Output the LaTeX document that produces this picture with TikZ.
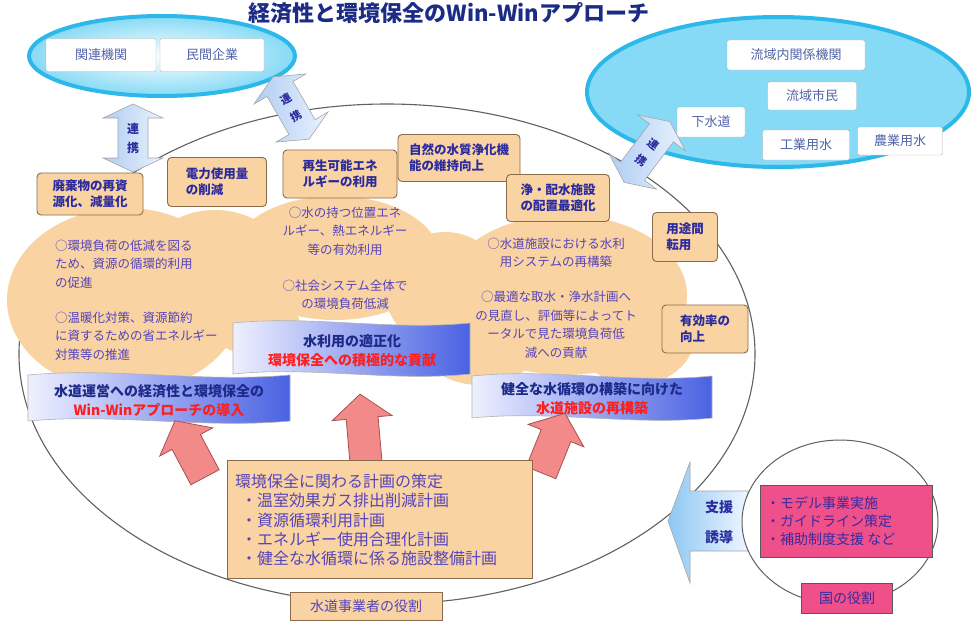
\documentclass[tikz,border=0pt]{standalone}
\usepackage{fontspec}
\setmainfont{Noto Sans CJK JP}
\definecolor{titleblue}{HTML}{1C2C86}
\definecolor{cyanedge}{HTML}{2DB8EA}
\definecolor{cyanL}{HTML}{D3F1FB}
\definecolor{cyanR}{HTML}{86DAF6}
\definecolor{wtext}{HTML}{5263A8}
\definecolor{orange1}{HTML}{FAD3A3}
\definecolor{obord}{HTML}{8B6B4A}
\definecolor{btext}{HTML}{2B2B9E}
\definecolor{ctextc}{HTML}{5544BB}
\definecolor{bannerL}{HTML}{EEF0FF}
\definecolor{bannerR}{HTML}{4A62E2}
\definecolor{navy}{HTML}{1E2A8A}
\definecolor{redt}{HTML}{FF1E1E}
\definecolor{arrL}{HTML}{AFCDF3}
\definecolor{arrR}{HTML}{EAF2FE}
\definecolor{redarrF}{HTML}{F28A8A}
\definecolor{redarrB}{HTML}{A85050}
\definecolor{pinkf}{HTML}{F0508A}
\definecolor{pinktext}{HTML}{3A2AA0}
\definecolor{bigarrL}{HTML}{8EC7F3}
\definecolor{bigarrR}{HTML}{EEF6FF}
\newcommand\wavebanner[4]{%
  \pgfmathsetmacro\wbA{#1+(#3-#1)/3}\pgfmathsetmacro\wbB{#1+2*(#3-#1)/3}%
  \path[banner] (#1,#2) .. controls (\wbA,#2-8) and (\wbB,#2+8) .. (#3,#2) -- (#3,#4) .. controls (\wbB,#4+8) and (\wbA,#4-8) .. (#1,#4) -- cycle;}
\newcommand\dblarr[4]{%
  \begin{scope}[shift={(#1,#2)},rotate=#3]
  \path[bluearr] (-#4,0) -- (-#4+14,-30) -- (-#4+14,-15) -- (#4-14,-15) -- (#4-14,-30) -- (#4,0) -- (#4-14,30) -- (#4-14,15) -- (-#4+14,15) -- (-#4+14,30) -- cycle;
  \end{scope}}
\newcommand\redup[4]{%
  \begin{scope}[shift={(#1,#2)},rotate=#3]
  \path[redarr] (0,-#4) -- (30,-#4+24) -- (16,-#4+24) -- (16,#4) -- (-16,#4) -- (-16,-#4+24) -- (-30,-#4+24) -- cycle;
  \end{scope}}
\begin{document}
\begin{tikzpicture}[x=1pt,y=-1pt,
  wbox/.style={draw=gray!60, fill=white, rounded corners=2pt, text=wtext, font=\fontsize{13}{15}\selectfont, inner sep=1pt},
  obox/.style={draw=obord, fill=orange1, rounded corners=4pt, line width=0.9pt, text=btext, font=\bfseries\fontsize{12.5}{16}\selectfont, align=left, inner sep=2pt},
  ctext/.style={text=ctextc, font=\fontsize{12.5}{18.5}\selectfont, inner sep=0pt},
  btxt/.style={font=\bfseries\fontsize{14}{19}\selectfont, align=center, inner sep=0pt},
  rtxt/.style={text=btext, font=\bfseries\fontsize{11}{13}\selectfont, inner sep=0pt},
  banner/.style={draw=gray!60, line width=0.6pt, left color=bannerL, right color=bannerR},
  bluearr/.style={draw=gray!70, line width=0.6pt, left color=arrL, right color=arrR},
  redarr/.style={draw=redarrB, line width=0.8pt, fill=redarrF},
  ellline/.style={draw=gray!75!black, line width=1.1pt},
  plainbox/.style={draw=obord, fill=orange1, line width=0.9pt, inner sep=0pt},
  pinkbox/.style={draw=gray!70!black, fill=pinkf, line width=0.8pt, text=pinktext, inner sep=0pt},
]
\useasboundingbox (0,0) rectangle (974,624);
\fill[white] (0,0) rectangle (974,624);

% title
\node[font=\bfseries\fontsize{22}{24}\selectfont, text=titleblue, inner sep=0pt] (title) at (449,13) {経済性と環境保全のWin-Winアプローチ};

% big ellipse
\draw[ellline] (387,354) ellipse [x radius=368, y radius=250];

% left cyan ellipse
\draw[line width=4pt, draw=cyanedge, inner color=white, outer color=cyanR] (162,56) ellipse [x radius=133, y radius=40];
\node[wbox, minimum width=110, minimum height=33] (kanren) at (101,55) {関連機関};
\node[wbox, minimum width=104, minimum height=33] (minkan) at (212,55) {民間企業};

% right cyan ellipse
\draw[line width=4pt, draw=cyanedge, fill=cyanR] (778,92) ellipse [x radius=191, y radius=75];
\node[wbox, minimum width=138, minimum height=30] (ryuiki) at (796,55) {流域内関係機関};
\node[wbox, minimum width=89, minimum height=28] (shimin) at (812,96) {流域市民};
\node[wbox, minimum width=68, minimum height=30] (gesui) at (711,122) {下水道};
\node[wbox, minimum width=87, minimum height=30] (kogyo) at (806,145) {工業用水};
\node[wbox, minimum width=85, minimum height=28] (nogyo) at (900,141) {農業用水};

% cloud
\begin{scope}[fill=orange1]
\fill (125,300) ellipse [x radius=118, y radius=92];
\fill (215,265) ellipse [x radius=70, y radius=55];
\fill (335,258) ellipse [x radius=105, y radius=62];
\fill (255,325) ellipse [x radius=45, y radius=30];
\fill (445,290) ellipse [x radius=60, y radius=58];
\fill (565,295) ellipse [x radius=122, y radius=80];
\fill (635,335) ellipse [x radius=60, y radius=50];
\fill (480,350) ellipse [x radius=55, y radius=35];
\end{scope}

% cloud texts
\node[ctext, align=left, anchor=west] (c1) at (55,264) {○環境負荷の低減を図る\\ため、資源の循環的利用\\の促進};
\node[ctext, align=left, anchor=west] (c2) at (55,336) {○温暖化対策、資源節約\\に資するための省エネルギー\\対策等の推進};
\node[ctext, align=center] (c3) at (345,231) {○水の持つ位置エネ\\ルギー、熱エネルギー\\等の有効利用};
\node[ctext, align=center] (c4) at (345,295) {○社会システム全体で\\の環境負荷低減};
\node[ctext, align=center] (c5) at (556,253) {○水道施設における水利\\用システムの再構築};
\node[ctext, align=center] (c6) at (556,325) {○最適な取水・浄水計画へ\\の見直し、評価等によってト\\ータルで見た環境負荷低\\減への貢献};

% orange boxes
\node[obox, minimum width=106, minimum height=42] (b1) at (90,194) {廃棄物の再資\\源化、減量化};
\node[obox, minimum width=99, minimum height=49] (b2) at (217,182) {電力使用量\\の削減};
\node[obox, minimum width=114, minimum height=48] (b3) at (340,174) {再生可能エネ\\ルギーの利用};
\node[obox, minimum width=122, minimum height=47] (b4) at (459,158) {自然の水質浄化機\\能の維持向上};
\node[obox, minimum width=103, minimum height=47] (b5) at (558,198) {浄・配水施設\\の配置最適化};
\node[obox, minimum width=65, minimum height=49] (b6) at (685,237) {用途間\\転用};
\node[obox, minimum width=86, minimum height=48] (b7) at (705,329) {有効率の\\向上};

% banners
\wavebanner{233}{323}{470}{374}
\node[btxt] (m1) at (352,351) {\textcolor{navy}{水利用の適正化}\\\textcolor{redt}{環境保全への積極的な貢献}};
\wavebanner{28}{375}{290}{421}
\node[btxt] (m2) at (159,401) {\textcolor{navy}{水道運営への経済性と環境保全の}\\\textcolor{redt}{Win-Winアプローチの導入}};
\wavebanner{472}{376}{712}{418}
\node[btxt] (m3) at (592,399) {\textcolor{navy}{健全な水循環の構築に向けた}\\\textcolor{redt}{水道施設の再構築}};

% blue double arrows
\dblarr{133}{138}{90}{34}
\node[rtxt, font=\bfseries\fontsize{12}{14}\selectfont] (r1a) at (133,129) {連};
\node[rtxt, font=\bfseries\fontsize{12}{14}\selectfont] (r1b) at (133,148) {携};
\dblarr{291}{108}{-60}{36}
\node[rtxt, rotate=30] (r2a) at (286,99.5) {連};
\node[rtxt, rotate=30] (r2b) at (296,116.5) {携};
\dblarr{647}{152}{53}{38}
\node[rtxt, rotate=-37] (r3a) at (653,144) {連};
\node[rtxt, rotate=-37] (r3b) at (641,160) {携};

% red arrows
\redup{190}{449}{28}{32}
\redup{363}{428}{5}{34}
\redup{553}{443}{-22}{32}

% bottom box
\node[plainbox, minimum width=305, minimum height=118] (plan) at (379.5,519) {};
\node[text=ctextc, font=\fontsize{16}{19.3}\selectfont, align=left, inner sep=0pt, anchor=west] (plantext) at (235,520) {環境保全に関わる計画の策定\\\hspace{6pt}・温室効果ガス排出削減計画\\\hspace{6pt}・資源循環利用計画\\\hspace{6pt}・エネルギー使用合理化計画\\\hspace{6pt}・健全な水循環に係る施設整備計画};
\node[plainbox, minimum width=152, minimum height=28, text=ctextc, font=\fontsize{14}{16}\selectfont] (role1) at (366,606) {水道事業者の役割};

% support arrow
\path[draw=gray!70, line width=0.6pt, left color=bigarrL, right color=bigarrR] (748,491) -- (690,491) -- (690,462) -- (668,521) -- (690,583) -- (690,551) -- (748,551) -- cycle;
\node[btxt, text=btext] (shien) at (719,507) {支援};
\node[btxt, text=btext] (yudo) at (719,537) {誘導};

% national role
\draw[draw=gray!75!black, line width=1pt, fill=white] (840,522) ellipse [x radius=98, y radius=82];
\node[pinkbox, minimum width=172, minimum height=72] (kuni) at (846,521) {};
\node[text=pinktext, font=\fontsize{14}{18}\selectfont, align=left, inner sep=0pt, anchor=west] (kunitext) at (766,521) {・モデル事業実施\\・ガイドライン策定\\・補助制度支援 など};
\node[pinkbox, minimum width=91, minimum height=30, font=\fontsize{14}{16}\selectfont] (role2) at (847,598) {国の役割};
\end{tikzpicture}
\end{document}
